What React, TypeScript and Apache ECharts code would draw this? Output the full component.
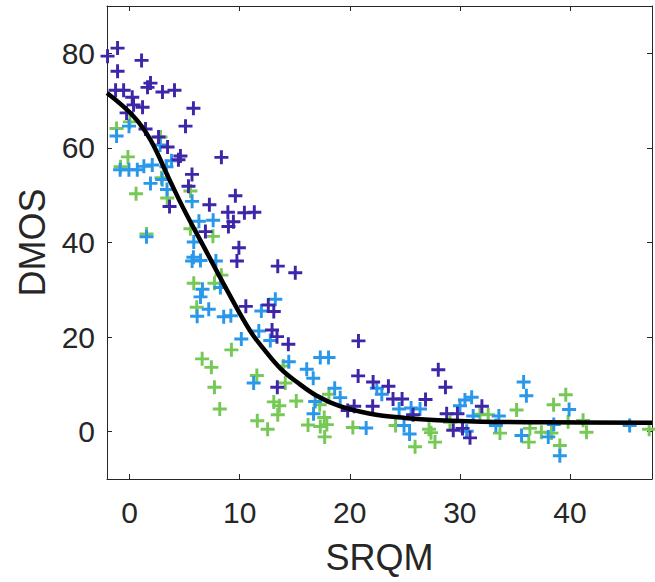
import React, { useEffect, useRef } from "react";
import * as echarts from "echarts";

// Tick values
const xTicks = [0, 10, 20, 30, 40];
const yTicks = [0, 20, 40, 60, 80];

// Series 1 (dark purple) [SRQM, DMOS]
const purplePoints: number[][] = [
  [-2.0, 79.4], [-1.09, 81.1], [1.09, 78.5], [-1.09, 76.2], [-1.27, 72.2], [-0.54, 72.2],
  [0.24, 70.7], [1.9, 73.7], [1.63, 72.8], [2.99, 71.8], [4.08, 72.2], [0.36, 69.1],
  [1.18, 68.6], [5.8, 68.4], [-0.27, 67.4], [5.08, 64.6], [1.45, 64.0], [2.63, 62.3],
  [3.45, 60.2], [4.62, 58.3], [4.44, 57.5], [8.34, 58.0], [5.67, 54.4], [5.35, 51.9],
  [9.61, 49.9], [3.63, 47.6], [7.25, 48.0], [8.93, 46.4], [10.43, 46.3], [11.33, 46.4],
  [9.43, 44.4], [8.98, 43.4], [6.89, 42.3], [9.93, 38.9], [9.75, 36.1], [13.46, 35.0],
  [15.05, 33.6], [10.56, 26.5], [12.6, 26.8], [13.1, 25.4], [12.94, 21.5], [13.39, 20.1],
  [14.42, 18.5], [20.79, 19.2], [13.42, 9.4], [20.76, 11.8], [22.12, 10.5], [23.51, 9.6],
  [23.93, 6.9], [24.75, 6.9], [22.08, 5.4], [20.4, 5.4], [19.81, 4.5], [28.04, 13.1],
  [28.69, 9.4], [26.88, 6.8], [25.75, 3.6], [28.8, 3.8], [29.78, 3.8], [29.4, 0.3],
  [30.24, 0.7], [30.92, -1.3], [32.0, 5.4],
];

// Series 2 (blue)
const bluePoints: number[][] = [
  [-1.18, 62.5], [-0.05, 64.6], [2.77, 60.6], [-0.86, 55.4], [-0.06, 55.4], [0.7, 55.4],
  [1.3, 56.1], [2.06, 56.4], [3.35, 56.0], [3.81, 57.3], [1.9, 52.5], [2.96, 53.3],
  [3.4, 51.2], [5.68, 48.7], [6.3, 44.5], [7.59, 44.7], [5.83, 40.1], [1.54, 41.2],
  [5.8, 36.9], [6.44, 36.2], [5.68, 36.1], [7.84, 36.1], [6.62, 30.1], [6.44, 28.5],
  [8.25, 30.5], [7.19, 25.9], [6.14, 24.4], [8.55, 24.3], [9.2, 24.5], [10.15, 19.6],
  [11.74, 21.3], [11.97, 25.5], [13.24, 28.0], [12.78, 19.3], [14.46, 14.8], [16.09, 13.2],
  [16.68, 11.3], [17.32, 15.7], [18.07, 15.7], [11.27, 10.3], [18.63, 9.2], [19.13, 7.2],
  [16.86, 6.4], [16.71, 3.8], [22.46, 9.2], [22.91, 7.9], [24.48, 4.8], [25.57, 5.0],
  [26.38, 4.8], [21.49, 0.8], [24.93, 1.3], [25.43, -0.5], [30.01, 5.5], [30.46, 6.7],
  [31.07, 7.3], [31.21, 3.3], [30.62, 0.1], [33.54, 3.3], [33.27, 1.3], [35.79, 10.5],
  [36.04, 7.6], [35.6, -0.8], [38.03, -1.1], [38.53, 1.5], [39.92, 4.7], [39.08, -5.1],
  [45.42, 1.3],
];

// Series 3 (green)
const greenPoints: number[][] = [
  [-1.18, 64.1], [0.03, 65.5], [2.81, 62.3], [-0.15, 58.1], [-0.82, 56.0], [0.59, 50.3],
  [5.53, 50.9], [2.9, 53.7], [3.42, 49.4], [1.54, 41.8], [5.53, 42.9], [7.57, 41.3],
  [8.34, 33.1], [5.83, 31.4], [7.71, 31.4], [6.1, 26.3], [9.25, 17.3], [6.59, 15.4],
  [7.43, 13.6], [7.71, 9.4], [8.19, 4.8], [11.56, 11.9], [14.14, 10.3], [13.1, 6.3],
  [13.6, 5.5], [13.46, 3.6], [15.14, 6.5], [11.6, 2.3], [12.54, 0.5], [17.27, 5.7],
  [18.11, 7.9], [16.21, 1.4], [17.68, 3.0], [17.32, 1.1], [17.92, 1.5], [17.72, -1.1],
  [20.28, 0.9], [24.16, 1.3], [25.93, -3.2], [27.2, 0.5], [27.38, -0.2], [27.74, -2.2],
  [29.1, 2.0], [31.82, 3.7], [32.57, 3.6], [33.64, -0.3], [35.15, 4.6], [36.36, 0.7],
  [36.26, -2.2], [37.4, -0.1], [38.51, 5.7], [39.62, 7.8], [38.32, -0.3], [39.08, -2.9],
  [41.19, 2.4], [41.5, -0.1], [39.83, 2.1], [47.19, 0.5], [13.96, 13.9],
];

// Fitted curve
const curveX = [-2.05, 0.39, 1.9, 3.56, 5.0, 6.88, 8.81, 10.9, 12.18, 13.69, 15.2, 17.0, 19.1, 21.85, 25.0, 28, 32, 38, 47.45];
const curveY = [71.6, 66.6, 61.7, 53.6, 46.7, 38.5, 30.1, 21.5, 17.5, 13.4, 10.5, 7.6, 5.4, 3.8, 2.9, 2.4, 2.1, 2.0, 1.9];

const X_MIN = -2.05;
const X_MAX = 47.45;
const Y_MIN = -10;
const Y_MAX = 90;

const PLUS = "path://M39.5,0H60.5V39.5H100V60.5H60.5V100H39.5V60.5H0V39.5H39.5Z";
const AXIS_COLOR = "#262626";
const FONT = "'Liberation Sans', Arial, Helvetica, sans-serif";

export default function App() {
  const ref = useRef<HTMLDivElement>(null);

  useEffect(() => {
    if (!ref.current) return;
    const chart = echarts.init(ref.current, undefined, { renderer: "svg" });

    const scatter = (name: string, data: number[][], color: string) => ({
      name,
      type: "scatter",
      data,
      symbol: PLUS,
      symbolSize: 14,
      itemStyle: { color, opacity: 1 },
      xAxisIndex: 0,
      yAxisIndex: 0,
    });

    const axisLine = { show: true, onZero: false, lineStyle: { color: AXIS_COLOR, width: 1 } };
    const tick = (vals: number[]) => ({
      show: true,
      inside: true,
      length: 5,
      customValues: vals,
      lineStyle: { color: AXIS_COLOR, width: 1 },
    });

    chart.setOption({
      animation: false,
      backgroundColor: "#ffffff",
      grid: { left: 107, right: 3, top: 6, bottom: 103, containLabel: false },
      xAxis: [
        {
          type: "value",
          position: "bottom",
          min: X_MIN,
          max: X_MAX,
          name: "SRQM",
          nameLocation: "middle",
          nameGap: 60,
          nameTextStyle: { fontSize: 36, color: AXIS_COLOR, fontFamily: FONT },
          axisLine,
          axisTick: tick(xTicks),
          axisLabel: {
            customValues: xTicks,
            fontSize: 30,
            color: AXIS_COLOR,
            fontFamily: FONT,
            margin: 18,
          },
          splitLine: { show: false },
        },
        {
          type: "value",
          position: "top",
          min: X_MIN,
          max: X_MAX,
          axisLine,
          axisTick: tick(xTicks),
          axisLabel: { show: false },
          splitLine: { show: false },
        },
      ],
      yAxis: [
        {
          type: "value",
          position: "left",
          min: Y_MIN,
          max: Y_MAX,
          name: "DMOS",
          nameLocation: "middle",
          nameGap: 55,
          nameRotate: 90,
          nameTextStyle: { fontSize: 36, color: AXIS_COLOR, fontFamily: FONT },
          axisLine,
          axisTick: tick(yTicks),
          axisLabel: {
            customValues: yTicks,
            fontSize: 30,
            color: AXIS_COLOR,
            fontFamily: FONT,
            margin: 12,
          },
          splitLine: { show: false },
        },
        {
          type: "value",
          position: "right",
          min: Y_MIN,
          max: Y_MAX,
          axisLine,
          axisTick: tick(yTicks),
          axisLabel: { show: false },
          splitLine: { show: false },
        },
      ],
      series: [
        scatter("green", greenPoints, "#77c957"),
        scatter("blue", bluePoints, "#2a98ea"),
        scatter("purple", purplePoints, "#3f26a8"),
        {
          name: "fit",
          type: "line",
          data: curveX.map((x, i) => [x, curveY[i]]),
          smooth: 0.4,
          showSymbol: false,
          symbol: "none",
          lineStyle: { color: "#000000", width: 4.5 },
          xAxisIndex: 0,
          yAxisIndex: 0,
          z: 5,
        },
      ],
    });

    return () => chart.dispose();
  }, []);

  return (
    <div
      ref={ref}
      style={{ position: "fixed", left: 0, top: 0, width: 655, height: 582, background: "#fff" }}
    />
  );
}
